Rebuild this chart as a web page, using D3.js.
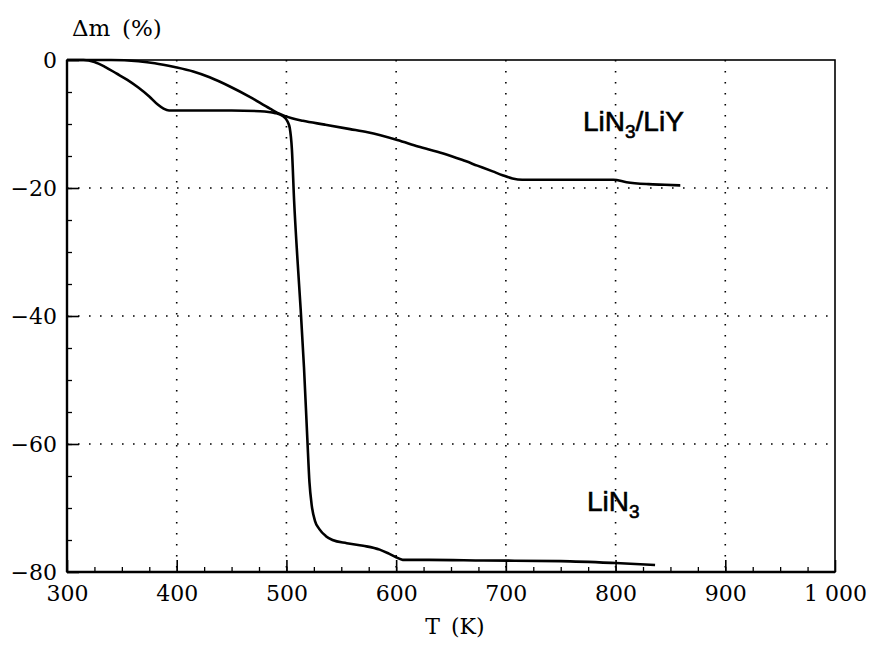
<!DOCTYPE html>
<html>
<head>
<meta charset="utf-8">
<script src="https://cdn.jsdelivr.net/npm/d3@7"></script>
<style>
  body { margin: 0; background: #fff; }
  .tick text { font-family: "DejaVu Serif", serif; font-size: 22px; fill: #000; }
  .domain { display: none; }
</style>
</head>
<body>
<div id="chart"></div>
<script>
// Setup the chart
//= ================================
var svgWidth = 872;
var svgHeight = 646;

var margin = { top: 60, right: 37, bottom: 74, left: 67 };
var width = svgWidth - margin.left - margin.right;
var height = svgHeight - margin.top - margin.bottom;

// Data
var xTicks = [300, 400, 500, 600, 700, 800, 900, 1000];
var yTicks = [0, -20, -40, -60, -80];

var lin3T = [300, 315, 325, 335, 345, 355, 365, 375, 383, 388, 393, 400, 450, 476, 490, 497, 501, 503, 505, 507, 510, 513, 516, 519, 521, 523, 526, 530, 536, 542, 555, 570, 585, 593, 600, 606, 630, 680, 750, 800, 836];
var lin3M = [0, 0, -0.3, -1.1, -2.1, -3.1, -4.3, -5.7, -7, -7.6, -7.9, -7.9, -7.9, -8, -8.3, -8.8, -9.6, -10.6, -14, -22, -31, -39, -48, -59, -66, -69.5, -72, -73.3, -74.4, -75, -75.5, -75.9, -76.5, -77.1, -77.7, -78.1, -78.1, -78.2, -78.3, -78.6, -78.9];

var liyT = [300, 340, 365, 380, 398, 415, 430, 448, 467, 485, 495, 505, 515, 535, 558, 574, 601, 620, 643, 660, 674, 688, 697, 706, 715, 750, 786, 798, 810, 830, 845, 859];
var liyM = [0, 0, -0.2, -0.5, -1.1, -1.8, -2.7, -4.1, -5.8, -7.6, -8.5, -9.1, -9.5, -10.1, -10.8, -11.3, -12.5, -13.5, -14.6, -15.6, -16.5, -17.4, -18, -18.5, -18.7, -18.7, -18.7, -18.7, -19.1, -19.4, -19.5, -19.6];

var svg = d3.select("#chart")
    .append("svg")
    .attr("width", svgWidth)
    .attr("height", svgHeight);

var chartGroup = svg.append("g")
    .attr("transform", `translate(${margin.left}, ${margin.top})`);

var xScale = d3.scaleLinear().domain([300, 1000]).range([0, width]);
var yScale = d3.scaleLinear().domain([-80, 0]).range([height, 0]);

// dotted grid
chartGroup.append("g")
    .selectAll("line")
    .data(xTicks.slice(1, -1))
    .enter()
    .append("line")
    .attr("x1", d => xScale(d)).attr("x2", d => xScale(d))
    .attr("y1", 0).attr("y2", height)
    .attr("stroke", "#000").attr("stroke-width", 1.6)
    .attr("stroke-dasharray", "1.6,9.4");

chartGroup.append("g")
    .selectAll("line")
    .data(yTicks.slice(1, -1))
    .enter()
    .append("line")
    .attr("x1", 0).attr("x2", width)
    .attr("y1", d => yScale(d)).attr("y2", d => yScale(d))
    .attr("stroke", "#000").attr("stroke-width", 1.6)
    .attr("stroke-dasharray", "1.6,9.4");

// minor ticks
chartGroup.append("g")
    .attr("transform", `translate(0, ${height})`)
    .call(d3.axisBottom(xScale).tickValues(d3.range(325, 1000, 25)).tickSize(-5).tickFormat(""))
    .selectAll("line").attr("stroke-width", 1.3);

chartGroup.append("g")
    .call(d3.axisLeft(yScale).tickValues(d3.range(-75, 0, 5)).tickSize(-5).tickFormat(""))
    .selectAll("line").attr("stroke-width", 1.3);

// major axes
chartGroup.append("g")
    .attr("transform", `translate(0, ${height})`)
    .call(d3.axisBottom(xScale).tickValues(xTicks).tickSize(-12).tickPadding(13)
        .tickFormat(d => d === 1000 ? "1 000" : d))
    .selectAll("line").attr("stroke-width", 1.6);

chartGroup.append("g")
    .call(d3.axisLeft(yScale).tickValues(yTicks).tickSize(-12).tickPadding(10))
    .selectAll("line").attr("stroke-width", 1.6);

// frame
chartGroup.append("rect")
    .attr("x", 0).attr("y", 0)
    .attr("width", width).attr("height", height)
    .attr("fill", "none").attr("stroke", "#000").attr("stroke-width", 1.6);
chartGroup.append("line")
    .attr("x1", 0).attr("x2", 0).attr("y1", 0).attr("y2", height)
    .attr("stroke", "#000").attr("stroke-width", 2.4);
chartGroup.append("line")
    .attr("x1", 0).attr("x2", width).attr("y1", height).attr("y2", height)
    .attr("stroke", "#000").attr("stroke-width", 2.4);

// curves
var line = d3.line()
    .x(d => xScale(d[0]))
    .y(d => yScale(d[1]))
    .curve(d3.curveMonotoneX);

chartGroup.append("path")
    .datum(d3.zip(lin3T, lin3M))
    .attr("d", line)
    .attr("fill", "none").attr("stroke", "#000").attr("stroke-width", 2.6);

chartGroup.append("path")
    .datum(d3.zip(liyT, liyM))
    .attr("d", line)
    .attr("fill", "none").attr("stroke", "#000").attr("stroke-width", 2.6);

// axis labels
svg.append("text")
    .attr("x", 72).attr("y", 36)
    .attr("font-family", "DejaVu Serif, serif").attr("font-size", 23)
    .attr("xml:space", "preserve")
    .text("Δm\u2002(%)");

svg.append("text")
    .attr("x", 455).attr("y", 634)
    .attr("text-anchor", "middle")
    .attr("font-family", "DejaVu Serif, serif").attr("font-size", 22)
    .text("T\u2002(K)");

// curve labels
var lab1 = svg.append("text")
    .attr("x", 583).attr("y", 131)
    .attr("font-family", "Liberation Sans, Arial, sans-serif").attr("font-size", 28)
    .attr("stroke", "#000").attr("stroke-width", 0.6);
lab1.append("tspan").text("LiN");
lab1.append("tspan").attr("font-size", 19).attr("dy", 7).text("3");
lab1.append("tspan").attr("dy", -7).text("/LiY");

var lab2 = svg.append("text")
    .attr("x", 587).attr("y", 511)
    .attr("font-family", "Liberation Sans, Arial, sans-serif").attr("font-size", 28)
    .attr("stroke", "#000").attr("stroke-width", 0.6);
lab2.append("tspan").text("LiN");
lab2.append("tspan").attr("font-size", 19).attr("dy", 7).text("3");
</script>
</body>
</html>
